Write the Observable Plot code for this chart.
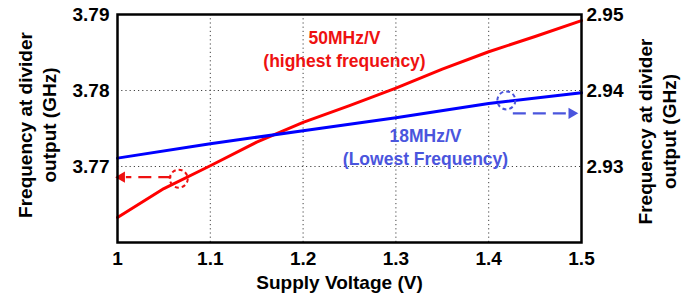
<!DOCTYPE html>
<html><head><meta charset="utf-8">
<script src="https://cdn.jsdelivr.net/npm/d3@7"></script>
<script src="https://cdn.jsdelivr.net/npm/@observablehq/plot@0.6"></script>
<style>body{margin:0;background:#fff}</style>
</head><body><div id="chart"></div>
<script>
// Supply voltage (V)
const redVoltage = [1, 1.05, 1.1, 1.15, 1.2, 1.25, 1.3, 1.35, 1.4, 1.45, 1.5];
// Highest frequency, left axis (GHz)
const redFreq = [3.7633, 3.7671, 3.7701, 3.7732, 3.7758, 3.7780, 3.7803, 3.7828, 3.7851, 3.7871, 3.7892];
const blueVoltage = [1, 1.1, 1.2, 1.3, 1.4, 1.5];
// Lowest frequency, right axis (GHz)
const blueFreq = [2.9311, 2.9330, 2.9347, 2.9364, 2.9383, 2.9397];
const xTicks = [1, 1.1, 1.2, 1.3, 1.4, 1.5];
const leftTicks = [3.77, 3.78, 3.79];
const rightTicks = [2.93, 2.94, 2.95];
const leftDomain = [3.76, 3.79];
const rightDomain = [2.92, 2.95];
const offset = leftDomain[0] - rightDomain[0]; // maps right axis onto left
const labels = [
  {x: 1.2446, y: 3.7856, text: "50MHz/V\n(highest frequency)", c: "red"},
  {x: 1.3319, y: 2.9327 + offset, text: "18MHz/V\n(Lowest Frequency)", c: "blue"}
];
const circles = [
  {x: 1.066, y: 3.7684, c: "red"},
  {x: 1.419, y: 2.9387 + offset, c: "blue"}
];
const arrows = [
  {x1: 1.058, x2: 1.009, tip: 1.0045, y: 3.7686, c: "red", rot: -90},
  {x1: 1.426, x2: 1.486, tip: 1.4895, y: 2.9370 + offset, c: "blue", rot: 90}
];
const colors = {red: "#ff0000", blue: "#0000ff"};
const annColors = {red: "#ee1111", blue: "#4a55dd"};

const red = redVoltage.map((v, i) => ({v, f: redFreq[i]}));
const blue = blueVoltage.map((v, i) => ({v, f: blueFreq[i] + offset}));
const gridStyle = {stroke: "#444", strokeOpacity: 1, strokeWidth: 1, strokeDasharray: "1.2,3"};
const yLabel = "Frequency at divider\noutput (GHz)";

const chart = Plot.plot({
  width: 692, height: 301,
  marginLeft: 117, marginRight: 111, marginTop: 14, marginBottom: 59,
  x: {domain: [1, 1.5]},
  y: {domain: leftDomain},
  style: {fontFamily: "'Liberation Sans', Arial, sans-serif", fontWeight: "bold", background: "#fff", color: "#000"},
  marks: [
    Plot.gridX(xTicks.slice(1, -1), gridStyle),
    Plot.gridY(leftTicks.slice(0, -1), gridStyle),
    Plot.axisX(xTicks, {tickSize: 0, tickPadding: 9, fontSize: 19, label: null, tickFormat: d => String(d)}),
    Plot.axisY(leftTicks, {anchor: "left", tickSize: 0, tickPadding: 8, fontSize: 19, label: null, tickFormat: d => d.toFixed(2)}),
    Plot.axisY(rightTicks.map(d => d + offset), {anchor: "right", tickSize: 0, tickPadding: 5, fontSize: 19, label: null, tickFormat: d => (d - offset).toFixed(2)}),
    Plot.line(red, {x: "v", y: "f", stroke: colors.red, strokeWidth: 3}),
    Plot.line(blue, {x: "v", y: "f", stroke: colors.blue, strokeWidth: 3}),
    Plot.dot(circles, {x: "x", y: "y", r: 9, stroke: d => annColors[d.c], strokeWidth: 2, strokeDasharray: "4,3", fill: "none"}),
    Plot.link(arrows, {x1: "x1", x2: "x2", y1: "y", y2: "y", stroke: d => annColors[d.c], strokeWidth: 2.2, strokeDasharray: "13,7"}),
    Plot.dot(arrows, {x: "tip", y: "y", symbol: "triangle", r: 4.2, rotate: "rot", fill: d => annColors[d.c], stroke: "none"}),
    Plot.text(labels, {x: "x", y: "y", text: "text", fill: d => annColors[d.c], fontSize: 17.5, lineHeight: 1.3}),
    Plot.frame({stroke: "#000", strokeWidth: 2.5}),
    Plot.text([yLabel], {frameAnchor: "left", textAnchor: "middle", dx: -81, dy: -3.5, rotate: -90, fontSize: 19, lineHeight: 1.27, fill: "#000"}),
    Plot.text([yLabel], {frameAnchor: "right", textAnchor: "middle", dx: 75, dy: 3, rotate: -90, fontSize: 19, lineHeight: 1.27, fill: "#000"}),
    Plot.text(["Supply Voltage (V)"], {frameAnchor: "bottom", textAnchor: "middle", dx: -10, dy: 46, fontSize: 19, fill: "#000"})
  ]
});
document.getElementById("chart").appendChild(chart);
</script>
</body></html>
